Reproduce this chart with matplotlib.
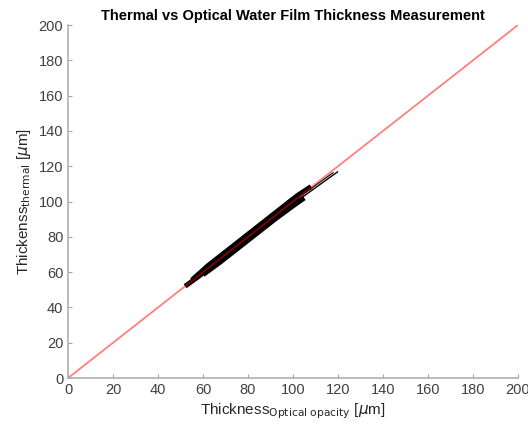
import numpy as np
import matplotlib.pyplot as plt

plt.rcParams['font.family'] = ['Liberation Sans', 'DejaVu Sans']

# reference 1:1 line
ref_x = [0, 200]
ref_y = [0, 200]

# measured traces (optical opacity thickness vs thermal thickness), um
opt_1 = [52, 58, 65, 72, 80, 88, 96, 103]
thm_1 = [52, 57.5, 64.5, 71.5, 79.5, 87.5, 95.5, 102]
opt_2 = [55, 62, 70, 78, 86, 94, 102, 108]
thm_2 = [55.5, 63.5, 71.5, 79.5, 87.5, 95.5, 103.5, 108.5]
opt_3 = [60, 68, 76, 84, 92, 100, 105]
thm_3 = [58.5, 66, 74, 82, 90, 97.5, 102]
opt_4 = [61, 68, 76, 84, 92, 100]
thm_4 = [62.5, 69.5, 77.5, 85.5, 93.5, 101.5]
opt_5 = [95, 102, 108, 114, 120]
thm_5 = [94, 100.5, 106, 111.5, 117]
opt_6 = [100, 106, 112, 118]
thm_6 = [99.5, 105.5, 111, 116.5]

traces = [(opt_1, thm_1, 3.5), (opt_2, thm_2, 3.5), (opt_3, thm_3, 3.5),
          (opt_4, thm_4, 3.0), (opt_5, thm_5, 1.0), (opt_6, thm_6, 0.8)]

fig = plt.figure(figsize=(5.28, 4.32), dpi=100)
ax = fig.add_axes([0.129, 0.125, 0.852, 0.817])

for xo, yt, lw in traces:
    ax.plot(xo, yt, color='black', lw=lw, solid_capstyle='butt')
ax.plot(ref_x, ref_y, color='red', alpha=0.5, lw=1.3)

ax.set_xlim(0, 200)
ax.set_ylim(0, 200)
ax.set_xticks(np.arange(0, 201, 20))
ax.set_yticks(np.arange(0, 201, 20))

for s in ['top', 'right']:
    ax.spines[s].set_visible(False)
for s in ['left', 'bottom']:
    ax.spines[s].set_color('#b0b0b0')
    ax.spines[s].set_linewidth(1.2)
ax.tick_params(direction='in', length=3, colors='#a0a0a0', labelcolor='#404040',
               labelsize=10.5)

ax.set_xlabel(r'Thickness$_{\mathrm{Optical\ opacity}}$ [$\mu$m]', fontsize=11,
              color='#262626', labelpad=3)
ax.set_ylabel(r'Thickenss$_{\mathrm{thermal}}$ [$\mu$m]', fontsize=11,
              color='#262626', labelpad=4)
ax.set_title('Thermal vs Optical Water Film Thickness Measurement',
             fontsize=10.5, fontweight='bold', pad=4)

fig.savefig('out.png', dpi=100)
